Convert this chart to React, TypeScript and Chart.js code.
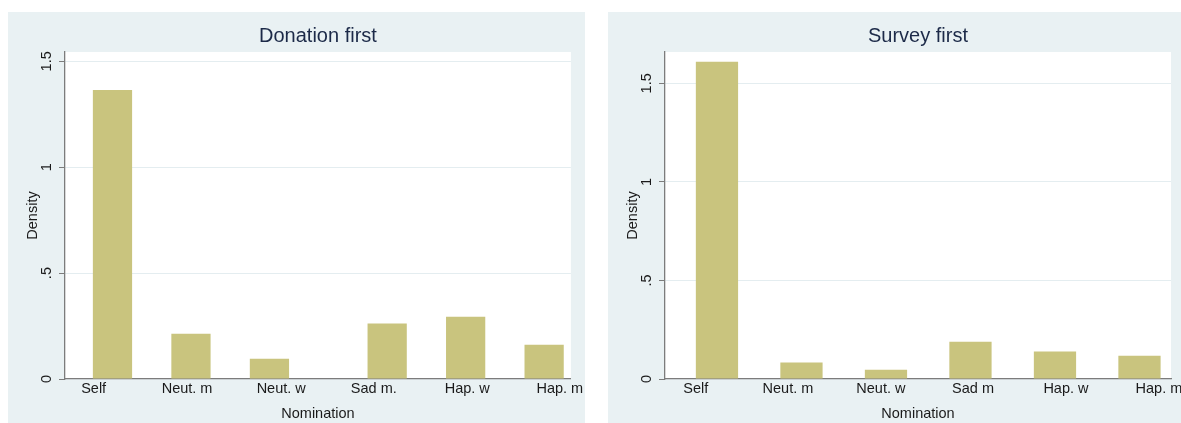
import React, { useEffect, useRef } from "react";
import { Chart, registerables } from "chart.js";

Chart.register(...registerables);

// ---- data ----
const donationCategories = ["Self", "Neut. m", "Neut. w", "Sad m.", "Hap. w", "Hap. m"];
const surveyCategories = ["Self", "Neut. m", "Neut. w", "Sad m", "Hap. w", "Hap. m"];
const donationBarX = [1, 2, 3, 4.5, 5.5, 6.5];
const donationDensity = [1.365, 0.214, 0.096, 0.262, 0.294, 0.162];
const donationLabelX = [0.76, 1.95, 3.15, 4.33, 5.52, 6.7];
const surveyBarX = [1, 2, 3, 4, 5, 6];
const surveyDensity = [1.61, 0.084, 0.047, 0.189, 0.139, 0.118];
const surveyLabelX = [0.75, 1.84, 2.94, 4.03, 5.13, 6.23];
const yTickValues = [0, 0.5, 1, 1.5];
const yTickLabels = ["0", ".5", "1", "1.5"];

const FAMILY = "'Liberation Sans', Arial, Helvetica, sans-serif";
const PANEL = "#e9f1f3";
const GRID = "#e4edf0";
const AXIS = "#7c7c7c";
const TEXT = "#1a1a1a";
const TITLE = "#1c2a48";
const BAR = "#c9c47e";

type PanelProps = {
  title: string;
  categories: string[];
  barX: number[];
  density: number[];
  labelX: number[];
  xMin: number;
  xMax: number;
  yMax: number;
  left: number;
};

function Panel(props: PanelProps) {
  const ref = useRef<HTMLCanvasElement | null>(null);
  useEffect(() => {
    const canvas = ref.current;
    if (!canvas) return;
    const font = { family: FAMILY, size: 14.5 };
    const panelPlugin = {
      id: "panelBg",
      beforeDraw(chart: any) {
        const { ctx, chartArea: a, width, height } = chart;
        ctx.save();
        ctx.fillStyle = PANEL;
        ctx.fillRect(0, 0, width, height);
        ctx.fillStyle = "#ffffff";
        ctx.fillRect(a.left, a.top, a.right - a.left, a.bottom - a.top);
        ctx.restore();
      },
      afterDraw(chart: any) {
        const { ctx, chartArea: a } = chart;
        ctx.save();
        ctx.fillStyle = TITLE;
        ctx.font = `20px ${FAMILY}`;
        ctx.textAlign = "center";
        ctx.textBaseline = "middle";
        ctx.fillText(props.title, (a.left + a.right) / 2, 24);
        ctx.restore();
      },
    };
    const chart = new Chart(canvas, {
      type: "bar",
      data: {
        datasets: [
          {
            data: props.barX.map((x, i) => ({ x, y: props.density[i] })),
            backgroundColor: BAR,
            borderColor: "#d3cf98",
            borderWidth: 0,
            barPercentage: 0.5,
            categoryPercentage: 1,
          },
        ],
      },
      options: {
        animation: false,
        responsive: false,
        layout: { padding: { left: 0, right: 14, top: 40, bottom: 0 } },
        plugins: {
          legend: { display: false },
          tooltip: { enabled: false },
          title: { display: false },
        },
        scales: {
          x: {
            type: "linear",
            min: props.xMin,
            max: props.xMax,
            offset: false,
            grid: { display: false, drawTicks: false, tickLength: 0, offset: false },
            border: { display: true, color: AXIS, width: 1.3 },
            afterBuildTicks: (s: any) => {
              s.ticks = props.labelX.map((v) => ({ value: v }));
            },
            afterFit: (s: any) => {
              s.height = 44;
            },
            ticks: {
              autoSkip: false,
              maxRotation: 0,
              minRotation: 0,
              padding: 1.5,
              font,
              color: TEXT,
              callback: (_v: any, i: number) => props.categories[i],
            },
            title: {
              display: true,
              text: "Nomination",
              font,
              color: TEXT,
              padding: { top: 0, bottom: 0 },
            },
          },
          y: {
            type: "linear",
            min: 0,
            max: props.yMax,
            afterBuildTicks: (s: any) => {
              s.ticks = yTickValues.map((v) => ({ value: v }));
            },
            afterFit: (s: any) => {
              s.width = 57;
            },
            grid: {
              color: GRID,
              lineWidth: 1,
              drawTicks: true,
              tickLength: 6,
              tickColor: AXIS,
            },
            border: { display: true, color: AXIS, width: 1.3 },
            ticks: {
              minRotation: 90,
              maxRotation: 90,
              crossAlign: "center",
              padding: 2,
              font,
              color: TEXT,
              callback: (_v: any, i: number) => yTickLabels[i],
            },
            title: {
              display: true,
              text: "Density",
              font,
              color: TEXT,
              padding: { top: 16, bottom: 0 },
            },
          },
        },
      } as any,
      plugins: [panelPlugin],
    });
    return () => chart.destroy();
  }, []);
  return (
    <canvas
      ref={ref}
      width={577}
      height={411}
      style={{ position: "absolute", left: props.left, top: 12, width: 577, height: 411 }}
    />
  );
}

export default function App() {
  return (
    <div
      style={{
        position: "fixed",
        left: 0,
        top: 0,
        width: 1181,
        height: 423,
        overflow: "hidden",
        background: "#ffffff",
      }}
    >
      <Panel
        title="Donation first"
        categories={donationCategories}
        barX={donationBarX}
        density={donationDensity}
        labelX={donationLabelX}
        xMin={0.395}
        xMax={6.841}
        yMax={1.544}
        left={8}
      />
      <Panel
        title="Survey first"
        categories={surveyCategories}
        barX={surveyBarX}
        density={surveyDensity}
        labelX={surveyLabelX}
        xMin={0.385}
        xMax={6.373}
        yMax={1.659}
        left={608}
      />
    </div>
  );
}
